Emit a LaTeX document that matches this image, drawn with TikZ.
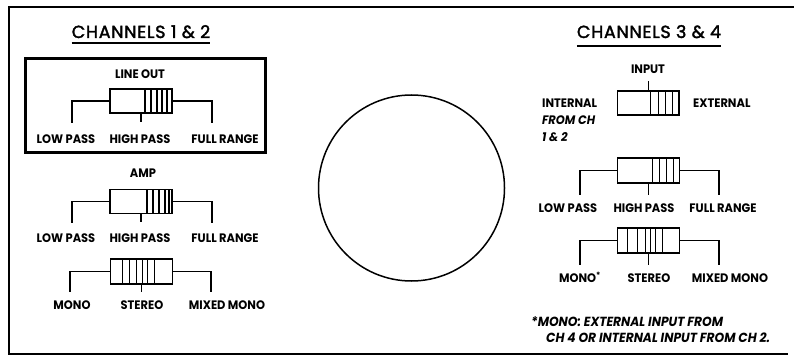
\documentclass[tikz,border=0pt]{standalone}
\usepackage{fontspec}
\setmainfont{Poppins}
\newfontfamily\lblfam{Poppins}[FakeStretch=0.93]
\newfontfamily\hdfam{Poppins}[LetterSpace=4,FakeBold=2]
\newcommand\lblfont{\lblfam\fontsize{12.3}{13}\selectfont\bfseries}
\newcommand\fnfont{\lblfam\fontsize{13.2}{14}\selectfont\bfseries\itshape}
\newcommand\hdfont{\hdfam\fontsize{17.5}{18}\selectfont}
\tikzset{
  sw/.style={draw, line width=1.4pt, minimum width=62pt, minimum height=24pt, inner sep=0pt, outer sep=0pt},
  stripe/.style={line width=1.3pt},
  leg/.style={line width=1.4pt},
  lbl/.style={font=\lblfont, inner sep=0pt, text height=8.8pt, text depth=0pt},
  lbli/.style={lbl, font=\lblfont\itshape},
  fn/.style={lbl, font=\fnfont},
  hd/.style={font=\hdfont, inner sep=0pt, text height=12pt, text depth=0pt},
  ul/.style={line width=2.5pt},
  frame/.style={line width=2.2pt},
}
\newcommand\knobstripes[2]{\foreach \d in {#2}{\draw[stripe] ([xshift=\d pt]#1.north west) -- ([xshift=\d pt]#1.south west);}}
\begin{document}
\begin{tikzpicture}[x=1pt,y=-1pt]
\useasboundingbox (0,0) rectangle (794,363);
% outer frame
\draw[frame] (794,7) -- (9,7) -- (9,354) -- (788,354);

% ---------- Channels 1 & 2 ----------
\node[hd] (h1) at (141,32) {CHANNELS 1 \& 2};
\draw[ul] ([yshift=-5pt]h1.south west) -- ([yshift=-5pt]h1.south east);

\node[draw, line width=3pt, minimum width=240pt, minimum height=94pt, inner sep=0pt] (lob) at (145,106) {};
\node[lbl] (lo) at (140,74) {LINE OUT};
\node[sw] (s1) at (141,101) {};
\knobstripes{s1}{35,41,47,52,57}
\coordinate (s1l) at (72,123);
\coordinate (s1r) at (212,123);
\coordinate (s1m) at (141,122);
\draw[leg] (s1.west) -| (s1l);
\draw[leg] (s1.east) -| (s1r);
\draw[leg] (s1.south) -- (s1m);
\node[lbl] (s1a) at (66,139) {LOW PASS};
\node[lbl] (s1b) at (140,139) {HIGH PASS};
\node[lbl] (s1c) at (225,139) {FULL RANGE};

\node[lbl] (amp) at (143,173) {AMP};
\node[sw] (s2) at (141,201.5) {};
\knobstripes{s2}{37,43,49,55,59}
\coordinate (s2l) at (72,223);
\coordinate (s2r) at (212,223);
\coordinate (s2m) at (141,222);
\draw[leg] (s2.west) -| (s2l);
\draw[leg] (s2.east) -| (s2r);
\draw[leg] (s2.south) -- (s2m);
\node[lbl] (s2a) at (66,238) {LOW PASS};
\node[lbl] (s2b) at (140,238) {HIGH PASS};
\node[lbl] (s2c) at (225,238) {FULL RANGE};

\node[sw, minimum height=25pt] (s3) at (141.5,271.5) {};
\knobstripes{s3}{12,19,26,32,37,44}
\coordinate (s3l) at (70,292);
\coordinate (s3r) at (211,292);
\coordinate (s3m) at (141.5,292);
\draw[leg] (s3.west) -| (s3l);
\draw[leg] (s3.east) -| (s3r);
\draw[leg] (s3.south) -- (s3m);
\node[lbl] (s3a) at (72,305) {MONO};
\node[lbl] (s3b) at (142,305) {STEREO};
\node[lbl] (s3c) at (227,305) {MIXED MONO};

% ---------- speaker ----------
\node[circle, draw, line width=1.5pt, minimum size=186pt, inner sep=0pt] (spk) at (411.5,188) {};

% ---------- Channels 3 & 4 ----------
\node[hd] (h2) at (649,32) {CHANNELS 3 \& 4};
\draw[ul] ([yshift=-8pt]h2.south west) -- ([yshift=-8pt]h2.south east);

\node[lbl] (inp) at (648,69) {INPUT};
\node[sw] (t1) at (648.5,103) {};
\knobstripes{t1}{33,41,48,55,61}
\coordinate (t1m) at (648.5,81);
\draw[leg] (t1.north) -- (t1m);
\node[lbl, anchor=west] (int1) at (542,103) {INTERNAL};
\node[lbli, anchor=west] (int2) at (542,120) {FROM CH};
\node[lbli, anchor=west] (int3) at (542,137) {1 \& 2};
\node[lbl, anchor=west] (ext) at (693,103) {EXTERNAL};

\node[sw, minimum height=25pt] (t2) at (648.5,170.5) {};
\knobstripes{t2}{35,42,49,56}
\coordinate (t2l) at (580,195);
\coordinate (t2r) at (719,195);
\coordinate (t2m) at (648.5,195);
\draw[leg] (t2.west) -| (t2l);
\draw[leg] (t2.east) -| (t2r);
\draw[leg] (t2.south) -- (t2m);
\node[lbl] (t2a) at (568,208) {LOW PASS};
\node[lbl] (t2b) at (644,208) {HIGH PASS};
\node[lbl] (t2c) at (723,208) {FULL RANGE};

\node[sw, minimum height=25pt] (t3) at (648.5,240.5) {};
\knobstripes{t3}{10,20,28,33,38,45}
\coordinate (t3l) at (580,265);
\coordinate (t3r) at (719,265);
\coordinate (t3m) at (648.5,265);
\draw[leg] (t3.west) -| (t3l);
\draw[leg] (t3.east) -| (t3r);
\draw[leg] (t3.south) -- (t3m);
\node[lbl] (t3a) at (580,278) {MONO\textsuperscript{*}};
\node[lbl] (t3b) at (649,278) {STEREO};
\node[lbl] (t3c) at (730,278) {MIXED MONO};

\node[fn, anchor=west] (f1) at (531,322) {*MONO: EXTERNAL INPUT FROM};
\node[fn, anchor=west] (f2) at (546,338) {CH 4 OR INTERNAL INPUT FROM CH 2.};
\end{tikzpicture}
\end{document}
